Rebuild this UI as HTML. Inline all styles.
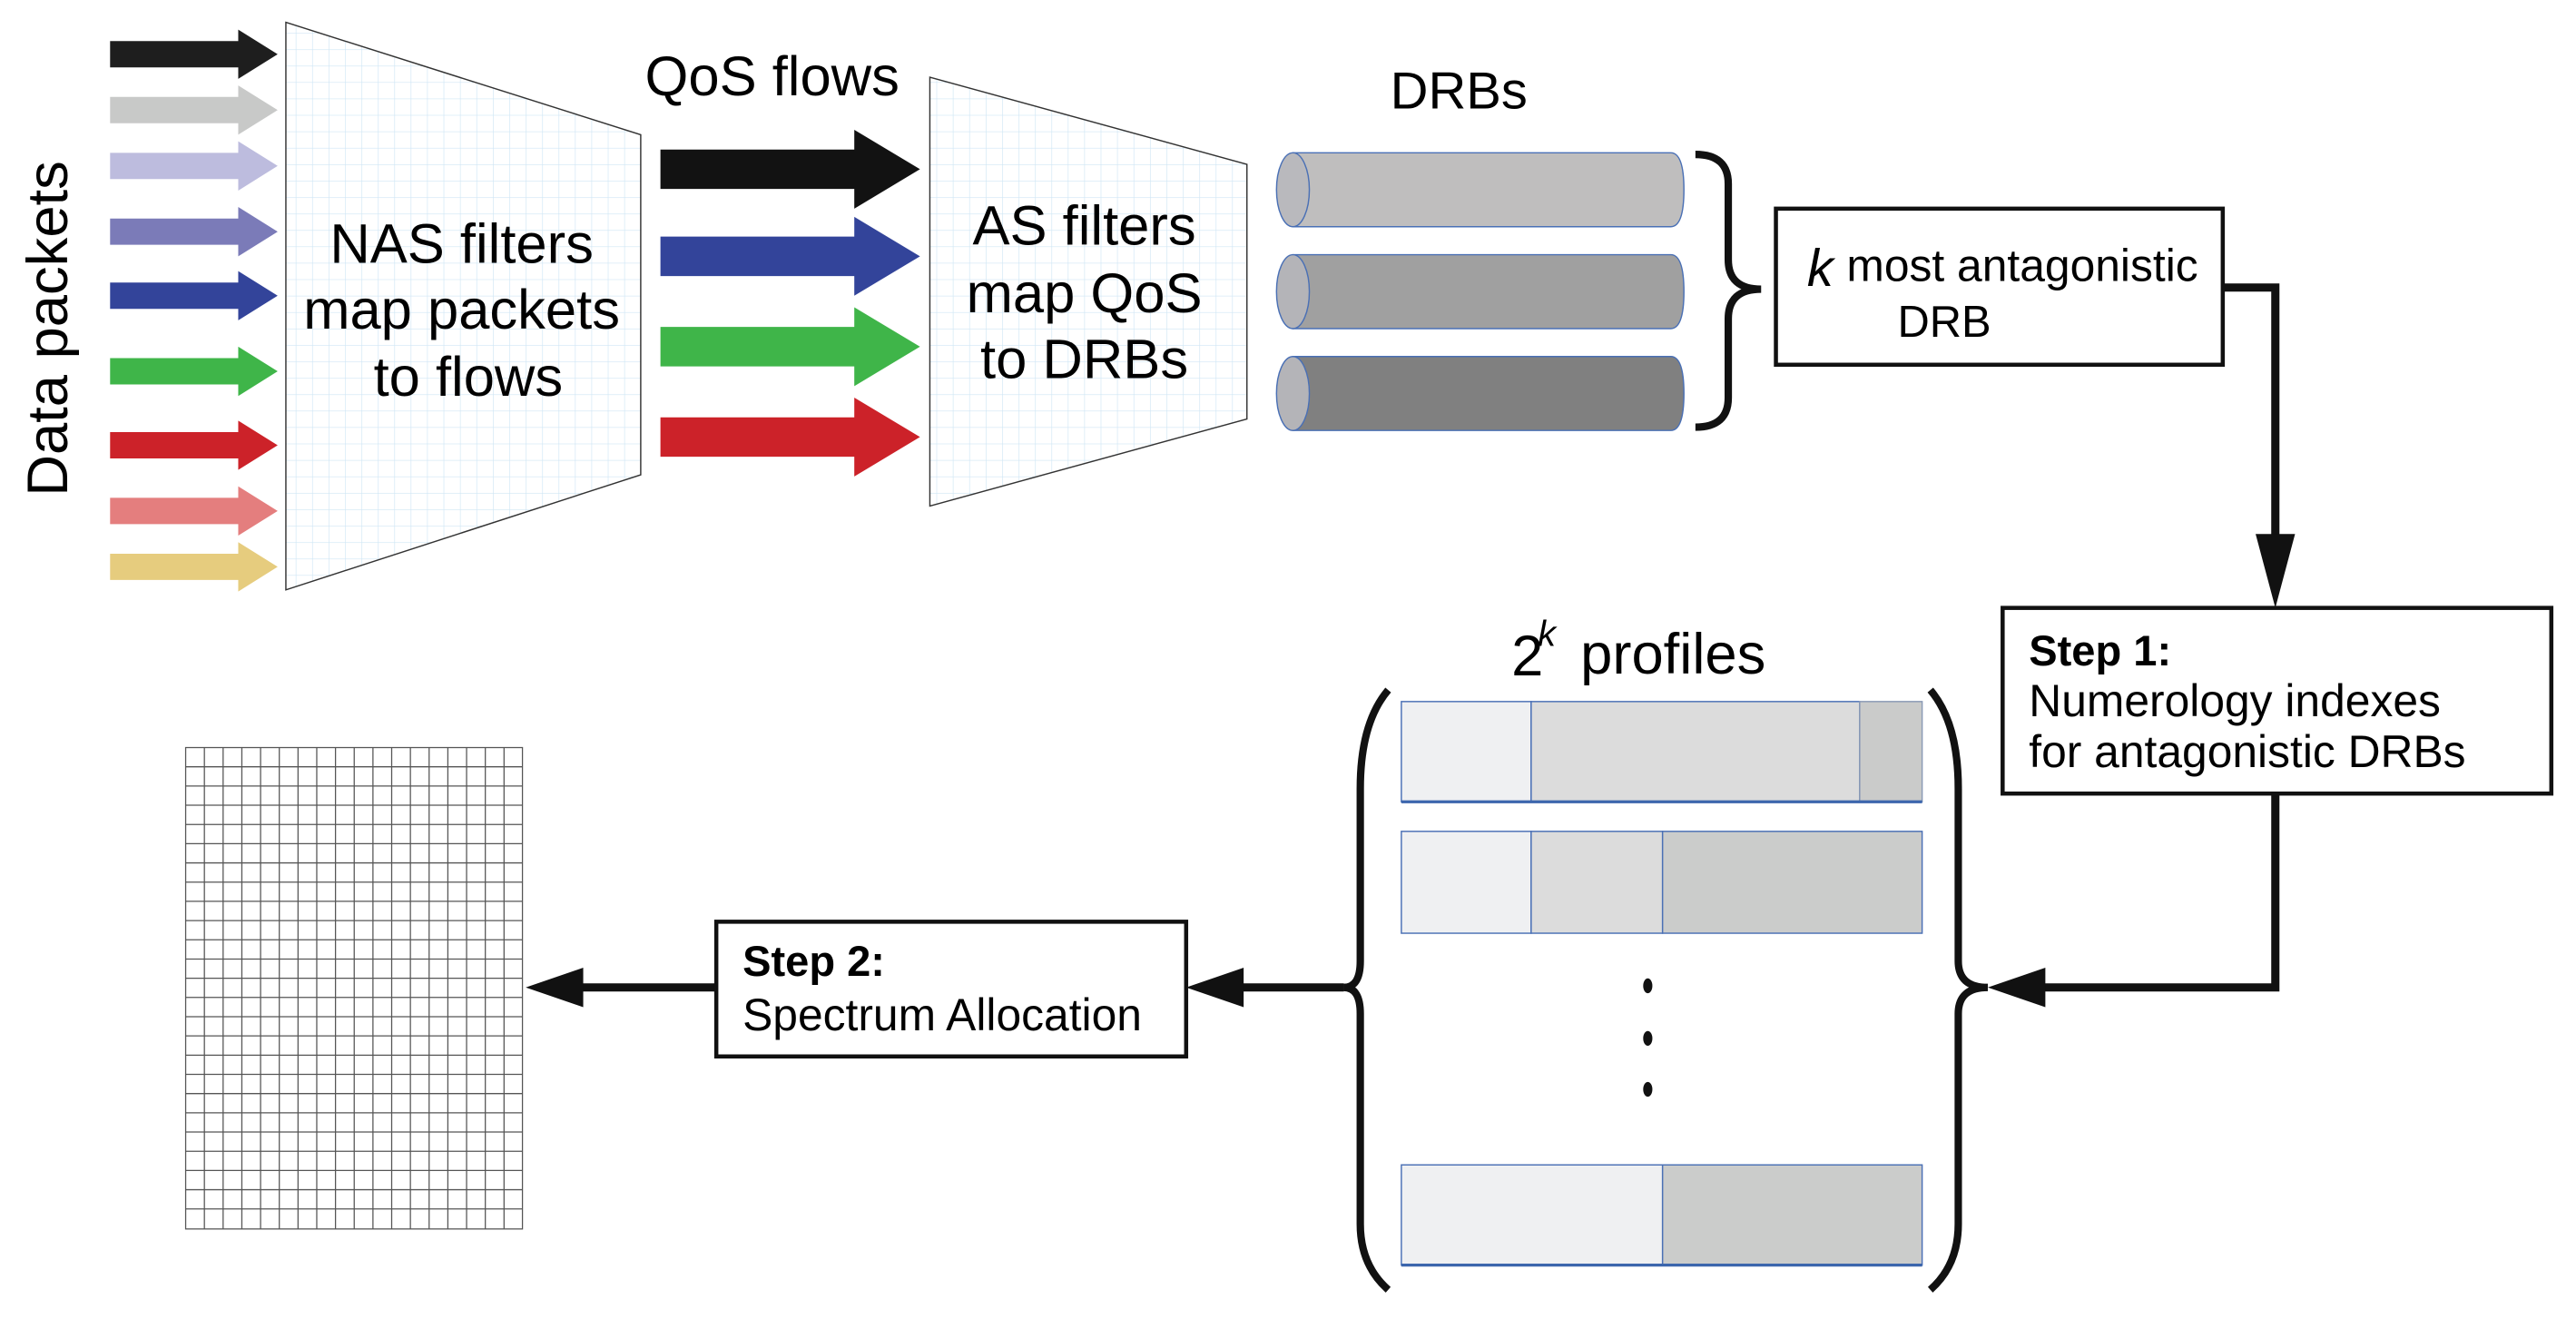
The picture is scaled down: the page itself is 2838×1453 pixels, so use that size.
<!DOCTYPE html>
<html><head><meta charset="utf-8"><style>
html,body{margin:0;padding:0;background:#fff;}
svg{display:block;}
text{font-family:"Liberation Sans",sans-serif;fill:#000;}
</style></head><body>
<svg width="2838" height="1453" viewBox="0 0 1568 802.8" xmlns="http://www.w3.org/2000/svg">
<defs>
<pattern id="g" width="10" height="10" patternUnits="userSpaceOnUse">
<rect width="10" height="10" fill="#fff"/>
<path d="M0 0H10M0 0V10" stroke="#cfe6f5" stroke-width="0.7" fill="none"/>
</pattern>
</defs>

<text x="0" y="0" font-size="35" text-anchor="middle" transform="translate(41,200) rotate(-90)">Data packets</text>

<g>
<polygon points="67,25 145,25 145,18 169,33 145,48 145,41 67,41" fill="#1e1e1e"/>
<polygon points="67,59 145,59 145,52 169,67 145,82 145,75 67,75" fill="#c8c9c8"/>
<polygon points="67,93 145,93 145,86 169,101 145,116 145,109 67,109" fill="#bdbcde"/>
<polygon points="67,133 145,133 145,126 169,141 145,156 145,149 67,149" fill="#7b7bb8"/>
<polygon points="67,172 145,172 145,165 169,180 145,195 145,188 67,188" fill="#33449a"/>
<polygon points="67,218 145,218 145,211 169,226 145,241 145,234 67,234" fill="#3fb549"/>
<polygon points="67,263 145,263 145,256 169,271 145,286 145,279 67,279" fill="#cc2229"/>
<polygon points="67,303 145,303 145,296 169,311 145,326 145,319 67,319" fill="#e47e7e"/>
<polygon points="67,337 145,337 145,330 169,345 145,360 145,353 67,353" fill="#e6cc7e"/>
</g>

<polygon points="174,13.6 390,82 390,289 174,359" fill="url(#g)" stroke="#333" stroke-width="0.8"/>
<text x="281" y="160" font-size="34" text-anchor="middle">NAS filters</text>
<text x="281" y="200" font-size="34" text-anchor="middle">map packets</text>
<text x="285" y="241" font-size="34" text-anchor="middle">to flows</text>

<text x="470" y="58" font-size="34" text-anchor="middle">QoS flows</text>

<polygon points="402,91 520,91 520,79 560,103 520,127 520,115 402,115" fill="#121212"/>
<polygon points="402,144 520,144 520,132 560,156 520,180 520,168 402,168" fill="#33449a"/>
<polygon points="402,199 520,199 520,187 560,211 520,235 520,223 402,223" fill="#3fb549"/>
<polygon points="402,254 520,254 520,242 560,266 520,290 520,278 402,278" fill="#cc2229"/>

<polygon points="566,47 759,100 759,255 566,308" fill="url(#g)" stroke="#333" stroke-width="0.8"/>
<text x="660" y="149" font-size="34" text-anchor="middle">AS filters</text>
<text x="660" y="190" font-size="34" text-anchor="middle">map QoS</text>
<text x="660" y="230" font-size="34" text-anchor="middle">to DRBs</text>

<text x="888" y="66" font-size="32" text-anchor="middle">DRBs</text>

<g stroke="#4a70b5" stroke-width="0.8">
<path d="M787,93 H1017 Q1025,93 1025,115.5 Q1025,138 1017,138 H787 Z" fill="#bfbebe"/>
<ellipse cx="787" cy="115.5" rx="10" ry="22.5" fill="#b9b9bd"/>
<path d="M787,155 H1017 Q1025,155 1025,177.5 Q1025,200 1017,200 H787 Z" fill="#a0a0a0"/>
<ellipse cx="787" cy="177.5" rx="10" ry="22.5" fill="#b4b4b8"/>
<path d="M787,217 H1017 Q1025,217 1025,239.5 Q1025,262 1017,262 H787 Z" fill="#808080"/>
<ellipse cx="787" cy="239.5" rx="10" ry="22.5" fill="#b4b4b8"/>
</g>

<path d="M1032,94 Q1052,94 1052,112 V158 Q1052,176 1072,176 Q1052,176 1052,194 V242 Q1052,260 1032,260" fill="none" stroke="#111" stroke-width="4.5"/>

<rect x="1081" y="127" width="272" height="95" fill="#fff" stroke="#111" stroke-width="2.5"/>
<text x="1100" y="174" font-size="32" font-style="italic" font-family="Liberation Serif,serif">k</text>
<text x="1124" y="171" font-size="27.5">most antagonistic</text>
<text x="1155" y="205" font-size="27">DRB</text>

<path d="M1353,175 H1385 V330" fill="none" stroke="#111" stroke-width="5"/>
<polygon points="1373,325 1397,325 1385,370" fill="#111"/>

<rect x="1219" y="370" width="334" height="113" fill="#fff" stroke="#111" stroke-width="2.5"/>
<text x="1235" y="405" font-size="26" font-weight="bold">Step 1:</text>
<text x="1235" y="436" font-size="27.5">Numerology indexes</text>
<text x="1235" y="467" font-size="27.5">for antagonistic DRBs</text>

<path d="M1385,483 V601 H1240" fill="none" stroke="#111" stroke-width="5"/>
<polygon points="1245,589 1245,613 1210,601" fill="#111"/>

<text x="920" y="411" font-size="35" font-family="Liberation Serif,serif">2</text>
<text x="936" y="393" font-size="22" font-style="italic" font-family="Liberation Serif,serif">k</text>
<text x="962" y="410" font-size="35">profiles</text>

<path d="M845,420 Q828,440 828,480 V585 Q828,601 818,601 Q828,601 828,617 V745 Q828,770 845,785" fill="none" stroke="#111" stroke-width="4.5"/>
<path d="M1175,420 Q1192,440 1192,480 V585 Q1192,601 1210,601 Q1192,601 1192,617 V745 Q1192,770 1175,785" fill="none" stroke="#111" stroke-width="4.5"/>

<g stroke="#4a70b5" stroke-width="0.8">
<rect x="853" y="427" width="79" height="61" fill="#eff0f2"/>
<rect x="932" y="427" width="200" height="61" fill="#dcdcdc"/>
<rect x="1132" y="427" width="38" height="61" fill="#cacbca" stroke="#8a9ab5"/>
<rect x="853" y="506" width="79" height="62" fill="#eff0f2"/>
<rect x="932" y="506" width="80" height="62" fill="#dcdcdc"/>
<rect x="1012" y="506" width="158" height="62" fill="#cbcccb"/>
<rect x="853" y="709" width="159" height="61" fill="#eff0f2"/>
<rect x="1012" y="709" width="158" height="61" fill="#cbcccb"/>
</g>
<path d="M853,488 H1170 M853,770 H1170" stroke="#3c66ad" stroke-width="1.8"/>
<ellipse cx="1003" cy="600" rx="2.8" ry="4.5" fill="#111"/>
<ellipse cx="1003" cy="632" rx="2.8" ry="4.5" fill="#111"/>
<ellipse cx="1003" cy="663" rx="2.8" ry="4.5" fill="#111"/>

<path d="M818,601 H750" stroke="#111" stroke-width="5"/>
<polygon points="757,589 757,613 722,601" fill="#111"/>
<rect x="436" y="561" width="286" height="82" fill="#fff" stroke="#111" stroke-width="2.5"/>
<text x="452" y="594" font-size="26" font-weight="bold">Step 2:</text>
<text x="452" y="627" font-size="27.5">Spectrum Allocation</text>

<path d="M436,601 H350" stroke="#111" stroke-width="5"/>
<polygon points="355,589 355,613 320,601" fill="#111"/>

<g stroke="#555" stroke-width="0.7" fill="none">
<rect x="113" y="455" width="205" height="293" fill="#fff"/>
<path d="M124.4,455V748M135.8,455V748M147.2,455V748M158.6,455V748M170,455V748M181.4,455V748M192.8,455V748M204.2,455V748M215.6,455V748M227,455V748M238.4,455V748M249.8,455V748M261.2,455V748M272.6,455V748M284,455V748M295.4,455V748M306.8,455V748"/>
<path d="M113,466.7H318M113,478.4H318M113,490.1H318M113,501.8H318M113,513.5H318M113,525.2H318M113,536.9H318M113,548.6H318M113,560.3H318M113,572H318M113,583.7H318M113,595.4H318M113,607.1H318M113,618.8H318M113,630.5H318M113,642.2H318M113,653.9H318M113,665.6H318M113,677.3H318M113,689H318M113,700.7H318M113,712.4H318M113,724.1H318M113,735.8H318"/>
</g>
</svg>
</body></html>
